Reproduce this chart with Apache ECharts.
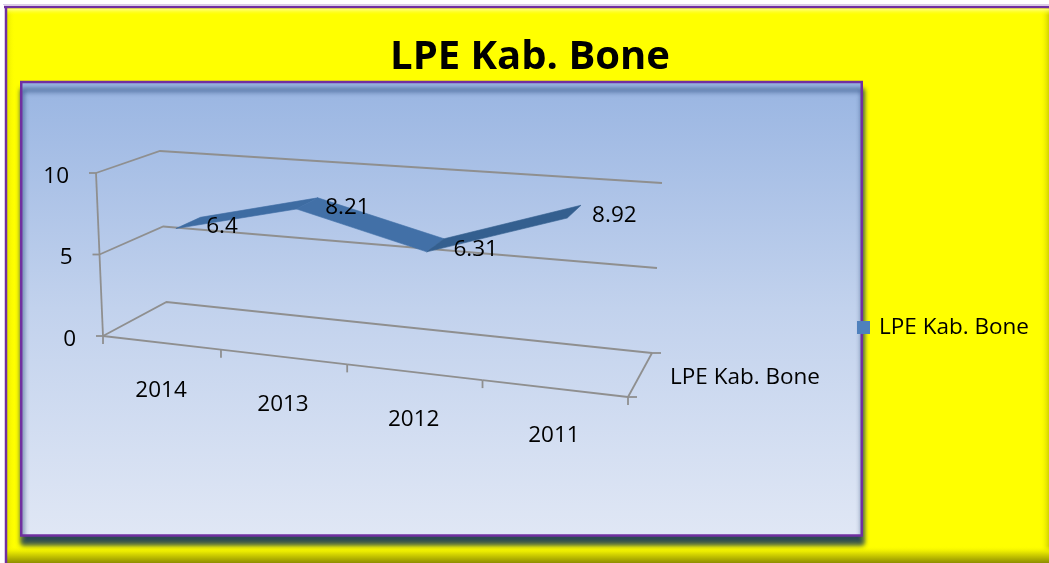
<!DOCTYPE html>
<html><head><meta charset="utf-8">
<script src="https://cdn.jsdelivr.net/npm/echarts@6/dist/echarts.min.js"></script>
<style>html,body{margin:0;padding:0;background:#fff;}#c{width:1049px;height:563px;}</style>
</head><body><div id="c"></div>
<script>
// ---- data ----
const categories = ['2014', '2013', '2012', '2011'];
const values = [6.4, 8.21, 6.31, 8.92];
const valueTicks = [0, 5, 10];
const seriesName = 'LPE Kab. Bone';
const titleText = 'LPE Kab. Bone';

// ---- layout of the fake 3D box (pixel corners of the projection) ----
const BOX = {
  FLB: [103, 336], FLT: [96, 173], FRB: [628, 397], FRT: [633, 214],
  BLB: [166.5, 302], BLT: [160, 151], BRB: [652, 353], BRT: [662, 183]
};
const WARP = 1.15;
const RIB = [0.31, 0.72];
const FONT = '"Open Sans", "Noto Sans", sans-serif';
const FS = 22.5;
const GRID_COLOR = '#8f8f8f';
const SEG_COLORS = ['#3e6ca2', '#4270a7', '#345f8f'];

function lerp(a, b, t) { return [a[0] + (b[0] - a[0]) * t, a[1] + (b[1] - a[1]) * t]; }
function warp(u) { return u / (WARP - (WARP - 1) * u); }
function proj(u, v, w) {
  const uu = warp(u);
  const fb = lerp(BOX.FLB, BOX.FRB, uu), ft = lerp(BOX.FLT, BOX.FRT, uu);
  const bb = lerp(BOX.BLB, BOX.BRB, uu), bt = lerp(BOX.BLT, BOX.BRT, uu);
  return lerp(lerp(fb, ft, v), lerp(bb, bt, v), w);
}
function norm(params, pt) {
  const cs = params.coordSys;
  return [(pt[0] - cs.x) / cs.width, (cs.y + cs.height - pt[1]) / cs.height];
}
function line(a, b, extra) {
  return Object.assign({ type: 'line', shape: { x1: a[0], y1: a[1], x2: b[0], y2: b[1] },
    style: { stroke: GRID_COLOR, lineWidth: 1.8 } }, extra || {});
}
function txt(x, y, text, align) {
  return { type: 'text', x: x, y: y, z2: 100,
    style: { text: text, fill: '#000', fontSize: FS, fontFamily: FONT, align: align, verticalAlign: 'middle' } };
}

const chart = echarts.init(document.getElementById('c'));

const option = {
  animation: false,
  grid: { left: 100, top: 100, width: 500, height: 300 },
  xAxis: { type: 'category', data: categories, show: false, boundaryGap: true },
  yAxis: { type: 'value', min: 0, max: 10, interval: 5, show: false },
  legend: {
    data: [{ name: seriesName, icon: 'rect' }],
    left: 857, top: 316, padding: 0, itemWidth: 13, itemHeight: 13,
    textStyle: { fontSize: FS, fontFamily: FONT, color: '#000', padding: [3, 0, 0, 4] }
  },
  graphic: [
    { type: 'rect', z: -10, shape: { x: 6, y: 6, width: 1043, height: 557 }, style: { fill: '#ffff00' } },
    { type: 'rect', z: -9, shape: { x: 7, y: 8, width: 8, height: 555 },
      style: { fill: new echarts.graphic.LinearGradient(0, 0, 1, 0, [{ offset: 0, color: '#e8e800' }, { offset: 1, color: 'rgba(255,255,0,0)' }]) } },
    { type: 'rect', z: -9, shape: { x: 1040, y: 8, width: 9, height: 555 },
      style: { fill: new echarts.graphic.LinearGradient(0, 0, 1, 0, [{ offset: 0, color: 'rgba(255,255,0,0)' }, { offset: 1, color: '#d2d200' }]) } },
    { type: 'rect', z: -9, shape: { x: 7, y: 8.5, width: 1042, height: 7 },
      style: { fill: new echarts.graphic.LinearGradient(0, 0, 0, 1, [{ offset: 0, color: '#ffff90' }, { offset: 1, color: 'rgba(255,255,0,0)' }]) } },
    { type: 'rect', z: -9, shape: { x: 7, y: 546, width: 1042, height: 17 },
      style: { fill: new echarts.graphic.LinearGradient(0, 0, 0, 1, [{ offset: 0, color: 'rgba(255,255,0,0)' }, { offset: 0.35, color: '#e6e600' }, { offset: 1, color: '#8e8e00' }]) } },
    { type: 'line', z: -8, shape: { x1: 4, y1: 7, x2: 1049, y2: 7 }, style: { stroke: '#7030a0', lineWidth: 2.5 } },
    { type: 'line', z: -8, shape: { x1: 6, y1: 6, x2: 6, y2: 563 }, style: { stroke: '#7030a0', lineWidth: 2.5 } },
    { type: 'line', z: -8, shape: { x1: 3, y1: 4.5, x2: 1049, y2: 4.5 }, style: { stroke: 'rgba(112,48,160,0.25)', lineWidth: 1 } },
    { type: 'rect', z: -7, shape: { x: 21.25, y: 82, width: 840.5, height: 453.5 },
      style: {
        fill: new echarts.graphic.LinearGradient(0, 0, 0, 1, [
          { offset: 0, color: '#99b5e2' }, { offset: 0.5, color: '#c2d2ed' }, { offset: 1, color: '#e0e7f5' }]),
        stroke: '#7030a0', lineWidth: 2.5,
        shadowBlur: 5, shadowOffsetY: 8, shadowOffsetX: 1, shadowColor: 'rgba(10,45,95,0.85)'
      } },
    { type: 'text', z: 10, x: 530, y: 58,
      style: { text: titleText, fontSize: 40, fontWeight: 'bold', fontFamily: FONT, fill: '#000', align: 'center', verticalAlign: 'middle' } }
  ],
  series: [
    { // value gridlines on walls + vertical axis
      type: 'custom', coordinateSystem: 'cartesian2d', silent: true,
      data: valueTicks.map(t => [0, t]),
      renderItem: function (params, api) {
        const v = norm(params, api.coord([0, api.value(1)]))[1];
        const p0 = proj(0, v, 0), p1 = proj(0, v, 1), p2 = proj(1, v, 1);
        const ch = [
          { type: 'polyline', shape: { points: [p0, p1, p2] }, style: { stroke: GRID_COLOR, lineWidth: 1.8, fill: null } },
          line(p0, [p0[0] - 7, p0[1]]),
          txt(p0[0] - 27, p0[1] + 3.5, String(api.value(1)), 'right')
        ];
        if (params.dataIndex === 0) {
          const vTop = norm(params, api.coord([0, valueTicks[valueTicks.length - 1]]))[1];
          ch.push(line(proj(0, v, 0), proj(0, vTop, 0)));
        }
        return { type: 'group', children: ch };
      }
    },
    { // category axis on the front floor edge
      type: 'custom', coordinateSystem: 'cartesian2d', silent: true,
      data: categories.map((c, i) => [i, 0]),
      renderItem: function (params, api) {
        const i = api.value(0);
        const c = api.coord([i, 0]);
        const bw = api.size([1, 0])[0];
        const uc = norm(params, c)[0];
        const ul = norm(params, [c[0] - bw / 2, c[1]])[0];
        const ur = norm(params, [c[0] + bw / 2, c[1]])[0];
        const a = proj(ul, 0, 0), b = proj(ur, 0, 0), m = proj(uc, 0, 0);
        const ch = [
          line(a, b),
          line(a, [a[0], a[1] + 8]),
          txt(m[0], m[1] + 47.5, categories[i], 'center')
        ];
        if (params.dataIndex === categories.length - 1) {
          const f = proj(1, 0, 0), k = proj(1, 0, 1);
          ch.push(line(b, [b[0], b[1] + 8]));
          ch.push(line(f, k));
          ch.push(line(f, [f[0] + 9, f[1]]));
          ch.push(line(k, [k[0] + 9, k[1]]));
          ch.push(txt((f[0] + k[0]) / 2 + 30, (f[1] + k[1]) / 2 + 2.5, seriesName, 'left'));
        }
        return { type: 'group', children: ch };
      }
    },
    { // the 3D ribbon line
      name: seriesName,
      type: 'custom', coordinateSystem: 'cartesian2d',
      itemStyle: { color: '#4f81bd' },
      data: values.map((v, i) => [i, v]),
      renderItem: function (params, api) {
        const i = api.value(0);
        const p = norm(params, api.coord([i, api.value(1)]));
        const ch = [];
        if (i < values.length - 1) {
          const q = norm(params, api.coord([i + 1, values[i + 1]]));
          const col = SEG_COLORS[i % SEG_COLORS.length];
          ch.push({ type: 'polygon', z2: 10,
            shape: { points: [proj(p[0], p[1], RIB[0]), proj(q[0], q[1], RIB[0]), proj(q[0], q[1], RIB[1]), proj(p[0], p[1], RIB[1])] },
            style: { fill: col, stroke: col, lineWidth: 0.6 } });
        }
        const lp = proj(p[0], p[1], (RIB[0] + RIB[1]) / 2);
        ch.push(txt(lp[0] + 18, lp[1] + 4, String(api.value(1)), 'left'));
        return { type: 'group', children: ch };
      }
    }
  ]
};
chart.setOption(option);
</script></body></html>
